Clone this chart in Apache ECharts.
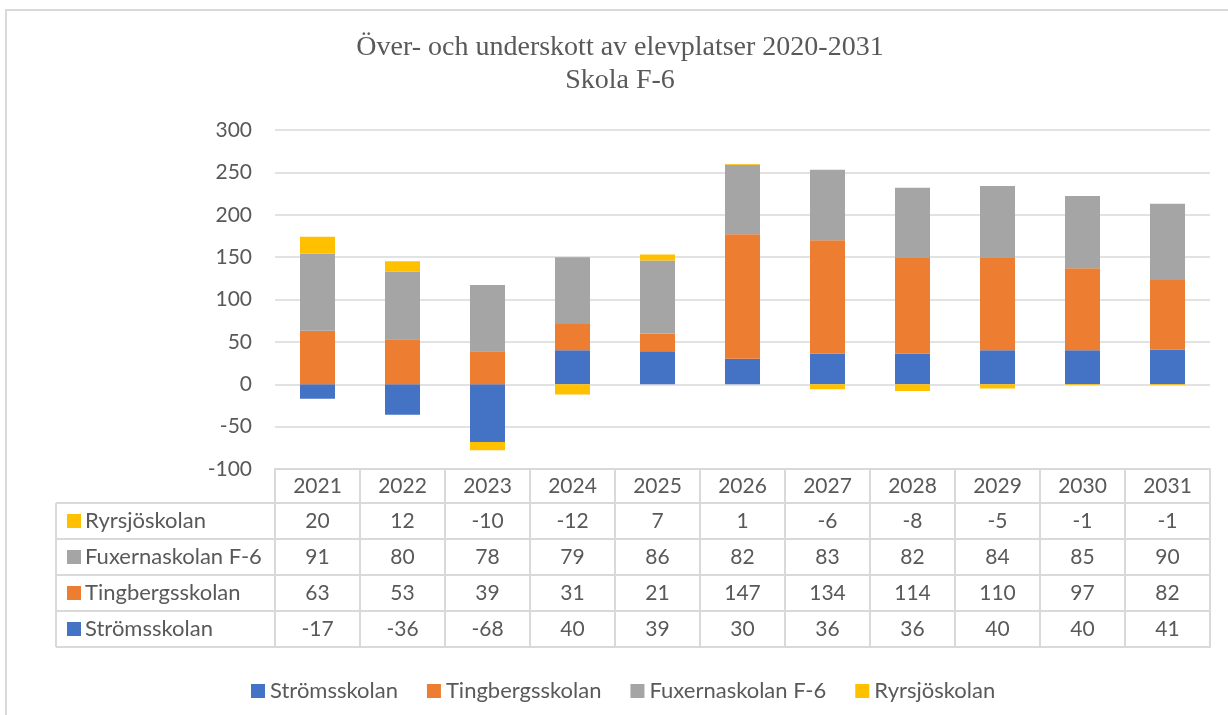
<!DOCTYPE html>
<html>
<head>
<meta charset="utf-8">
<script src="https://cdn.jsdelivr.net/npm/echarts@6/dist/echarts.min.js"></script>
<style>
  html, body { margin: 0; padding: 0; background: #fff; }
  #chart { width: 1228px; height: 715px; }
</style>
</head>
<body>
<div id="chart"></div>
<script>
// data
const years = ['2021', '2022', '2023', '2024', '2025', '2026', '2027', '2028', '2029', '2030', '2031'];
const stromsskolan = [-17, -36, -68, 40, 39, 30, 36, 36, 40, 40, 41];
const tingbergsskolan = [63, 53, 39, 31, 21, 147, 134, 114, 110, 97, 82];
const fuxernaskolan = [91, 80, 78, 79, 86, 82, 83, 82, 84, 85, 90];
const ryrsjoskolan = [20, 12, -10, -12, 7, 1, -6, -8, -5, -1, -1];
const yMin = -100, yMax = 300, yStep = 50;

const series = [
  { name: 'Strömsskolan', data: stromsskolan, color: '#4472C4' },
  { name: 'Tingbergsskolan', data: tingbergsskolan, color: '#ED7D31' },
  { name: 'Fuxernaskolan F-6', data: fuxernaskolan, color: '#A5A5A5' },
  { name: 'Ryrsjöskolan', data: ryrsjoskolan, color: '#FFC000' }
];

const txt = '#595959';
const line = '#d9d9d9';
const font = 'Lato';
const fs = 21;   // numbers
const fsName = 22; // series names

// grid box (table hangs under it)
const gLeft = 275, gRight = 1210, gTop = 130, gBottom = 469;
const headH = 34, rowH = 36, nameX = 67, tableLeft = 56;

// table rows: top to bottom is reverse series order
const rows = series.slice().reverse();

const xAxes = [{
  type: 'category',
  data: years,
  position: 'bottom',
  offset: 0,
  axisLine: { show: true, onZero: false, lineStyle: { color: line, width: 2 } },
  axisTick: { show: true, interval: 0, length: headH, lineStyle: { color: line, width: 2 } },
  axisLabel: { color: txt, fontSize: fs, fontFamily: font, margin: headH / 2, verticalAlign: 'middle', interval: 0 },
  splitLine: { show: false }
}];

rows.forEach((s, k) => {
  xAxes.push({
    type: 'category',
    data: years,
    position: 'bottom',
    offset: headH + rowH * k,
    name: '{k|}{t|' + s.name + '}',
    nameLocation: 'start',
    nameGap: gLeft - nameX,
    nameTextStyle: {
      align: 'left',
      verticalAlign: 'middle',
      padding: [rowH, 0, 0, 0],
      rich: {
        k: { width: 14, height: 14, backgroundColor: s.color },
        t: { color: txt, fontSize: fsName, fontFamily: font, padding: [0, 0, 0, 4] }
      }
    },
    axisLine: { show: true, onZero: false, lineStyle: { color: line, width: 2 } },
    axisTick: { show: true, interval: 0, length: rowH, lineStyle: { color: line, width: 2 } },
    axisLabel: {
      color: txt, fontSize: fs, fontFamily: font, margin: rowH / 2, verticalAlign: 'middle',
      interval: 0,
      formatter: (v, i) => String(s.data[i])
    },
    splitLine: { show: false }
  });
});

// closing line under the last row
xAxes.push({
  type: 'category',
  data: years,
  position: 'bottom',
  offset: headH + rowH * rows.length,
  axisLine: { show: true, onZero: false, lineStyle: { color: line, width: 2 } },
  axisTick: { show: false },
  axisLabel: { show: false }
});

// left column of the table (row name cells)
const tableGraphics = [];
for (let k = 0; k <= rows.length; k++) {
  const y = gBottom + headH + rowH * k;
  tableGraphics.push({
    type: 'line', silent: true,
    shape: { x1: tableLeft, y1: y, x2: gLeft, y2: y },
    style: { stroke: line, lineWidth: 2 }
  });
}
tableGraphics.push({
  type: 'line', silent: true,
  shape: { x1: tableLeft, y1: gBottom + headH, x2: tableLeft, y2: gBottom + headH + rowH * rows.length },
  style: { stroke: line, lineWidth: 2 }
});
tableGraphics.push({
  type: 'line', silent: true,
  shape: { x1: gLeft, y1: gBottom, x2: gLeft, y2: gBottom + headH + rowH * rows.length },
  style: { stroke: line, lineWidth: 2 }
});
// outer chart border
tableGraphics.push({
  type: 'rect', silent: true,
  shape: { x: 6, y: 10, width: 1400, height: 900 },
  style: { fill: 'none', stroke: line, lineWidth: 2 }
});

const chart = echarts.init(document.getElementById('chart'));

chart.setOption({
  animation: false,
  title: {
    text: 'Över- och underskott av elevplatser 2020-2031\nSkola F-6',
    left: 620,
    textAlign: 'center',
    top: 31,
    padding: 0,
    textStyle: {
      fontFamily: 'Liberation Serif',
      fontSize: 28,
      fontWeight: 'normal',
      color: txt,
      lineHeight: 33
    }
  },
  legend: {
    data: series.map(s => s.name),
    left: 251,
    top: 680,
    padding: 0,
    icon: 'rect',
    itemWidth: 14,
    itemHeight: 14,
    itemGap: 29,
    textStyle: { color: txt, fontSize: fsName, fontFamily: font, padding: [0, 0, 0, 0] }
  },
  grid: {
    left: gLeft,
    right: 1228 - gRight,
    top: gTop,
    bottom: 715 - gBottom,
    containLabel: false
  },
  xAxis: xAxes,
  yAxis: {
    type: 'value',
    min: yMin,
    max: yMax,
    interval: yStep,
    axisLine: { show: false },
    axisTick: { show: false },
    axisLabel: { color: txt, fontSize: fs, fontFamily: font, margin: 23 },
    splitLine: { lineStyle: { color: line, width: 1.5 } }
  },
  series: series.map(s => ({
    name: s.name,
    type: 'bar',
    stack: 'total',
    xAxisIndex: 0,
    barWidth: 35,
    data: s.data,
    itemStyle: { color: s.color }
  })),
  graphic: tableGraphics
});
</script>
</body>
</html>
